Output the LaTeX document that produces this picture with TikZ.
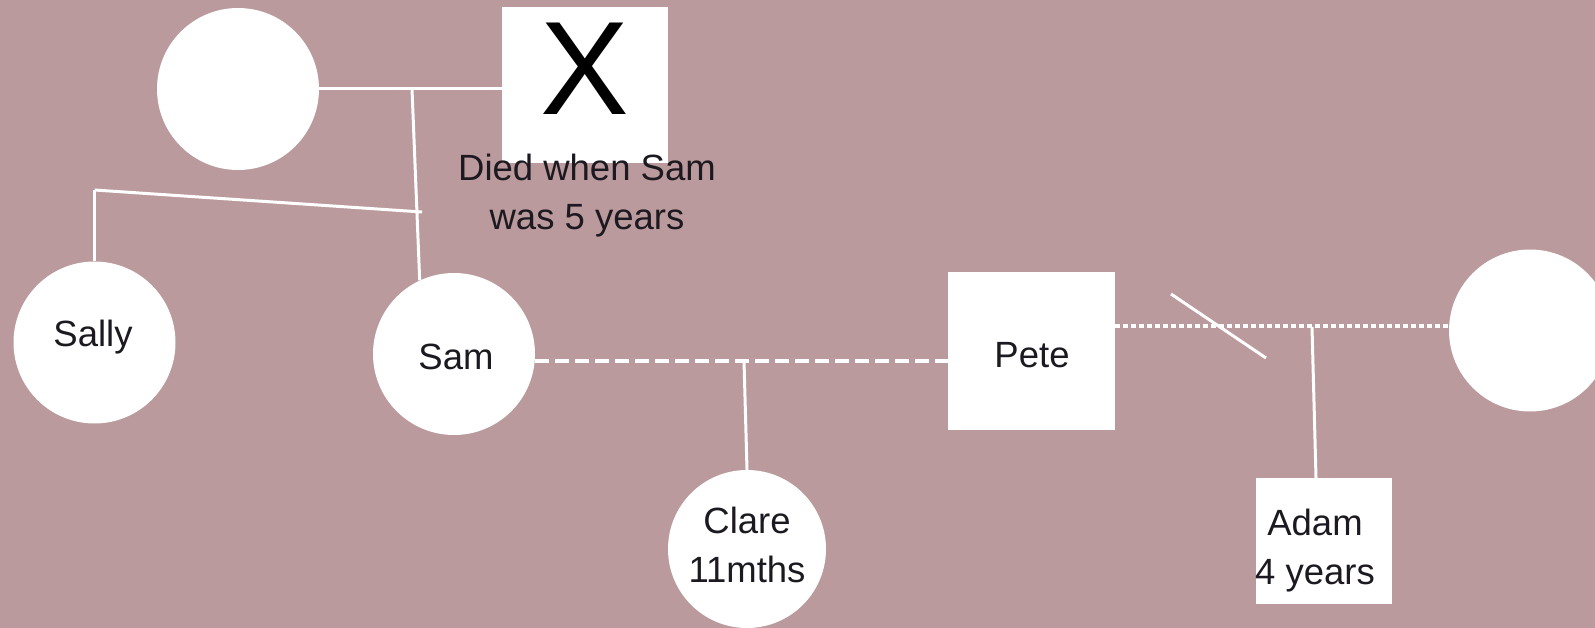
\documentclass[tikz,border=0pt]{standalone}
\usepackage{fontspec}
\setmainfont{Liberation Sans}
\usetikzlibrary{calc}
\definecolor{bgmauve}{RGB}{186,154,156}
\definecolor{ink}{RGB}{28,26,32}
\begin{document}
\begin{tikzpicture}[x=1pt,y=-1pt,
  person/.style={circle, fill=white, draw=none, minimum size=162pt, inner sep=0pt,
    text=ink, font=\fontsize{36.5}{49}\selectfont, align=center},
  male/.style={rectangle, fill=white, draw=none, inner sep=0pt,
    text=ink, font=\fontsize{36.5}{49}\selectfont, align=center},
  txt/.style={text=ink, font=\fontsize{36.5}{49}\selectfont, align=center, inner sep=0pt},
  tie/.style={draw=white, line width=3pt},
  tiedash/.style={draw=white, line width=4pt, dash pattern=on 14pt off 6pt},
  tiedot/.style={draw=white, line width=4pt, dash pattern=on 5pt off 3pt},
]
\fill[bgmauve] (0,0) rectangle (1595,628);
\useasboundingbox (0,0) rectangle (1595,628);

% grandparents
\node[person] (mother) at (238,89) {};
\node[male, minimum width=166pt, minimum height=156pt] (father) at (585,85) {};
\node[txt, font=\fontsize{133}{133}\selectfont, text=black] (cross) at (585,69) {X};
\node[txt] (died) at (587,196) {Died when Sam\\was 5 years};

% siblings
\node[person] (sally) at (94.5,342.5) {};
\node[txt] (sallyname) at (93,337) {Sally};
\node[person] (sam) at (454,354) {};
\node[txt] (samname) at (456,357) {Sam};

% Sam and Pete, and their child
\node[male, minimum width=167pt, minimum height=158pt] (pete) at (1031.5,351) {};
\node[txt] (petename) at (1032,355) {Pete};
\node[person, minimum size=158pt] (clare) at (747,549) {};
\node[txt] (clarename) at (747,545) {Clare\\11mths};

% Pete's former partner and their child
\node[person] (partner) at (1530,330.5) {};
\node[male, minimum width=136pt, minimum height=126pt] (adam) at (1324,541) {};
\node[txt] (adamname) at (1315,551) {Adam\\4 years};

% connectors
\coordinate (parents) at (412,89);
\coordinate (sibL) at (94.5,190);
\coordinate (sibR) at (422,212);
\coordinate (clareup) at (744,361);
\coordinate (divA) at (1171,294);
\coordinate (divB) at (1266,358);
\coordinate (adamup) at (1312,327);

\draw[tie] (mother.east) -- (mother.east -| father.west);
\draw[tie] (parents) -- (sam.115);
\draw[tie] (sibL) -- (sibR);
\draw[tie] (sibL) -- (sally.north);
\draw[tiedash] (sam.-5) -- (sam.-5 -| pete.west);
\draw[tie] (clareup) -- (clare.north);
\draw[tiedot] (pete.east |- partner.177) -- (partner.177);
\draw[tie] (divA) -- (divB);
\draw[tie] (adamup) -- ($(adam.north)+(-8,0)$);
\end{tikzpicture}
\end{document}
